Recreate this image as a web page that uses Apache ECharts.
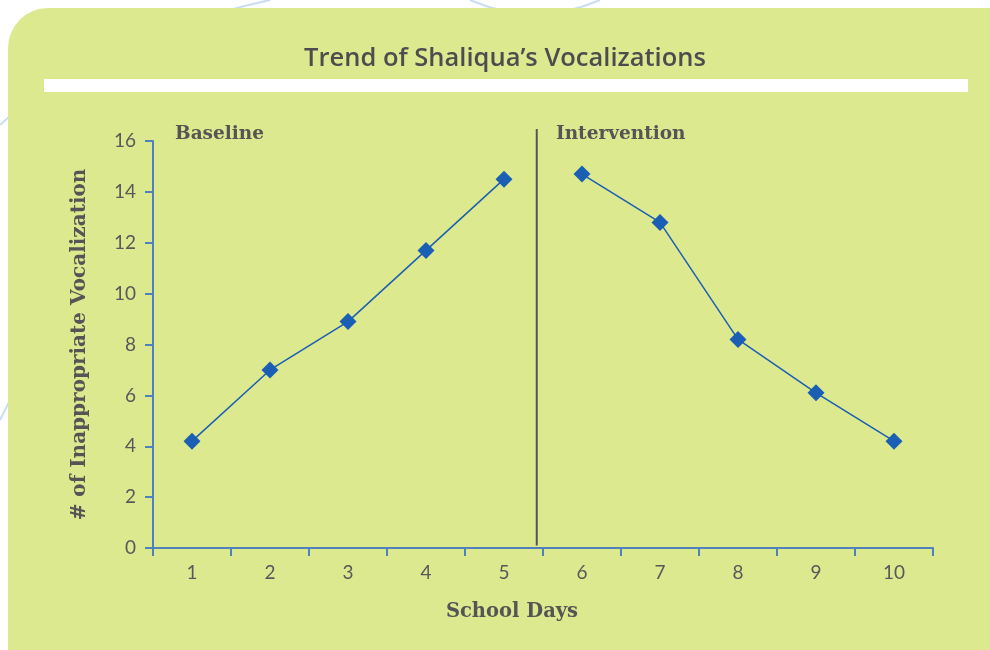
<!DOCTYPE html>
<html>
<head>
<meta charset="utf-8">
<script src="https://cdn.jsdelivr.net/npm/echarts@6/dist/echarts.min.js"></script>
<style>
  html, body { margin: 0; padding: 0; background: #ffffff; }
  #main { width: 990px; height: 650px; }
</style>
</head>
<body>
<div id="main"></div>
<script>
// school days 1..10
var days = ['1', '2', '3', '4', '5', '6', '7', '8', '9', '10'];
// baseline phase (days 1-5), intervention phase (days 6-10)
var baseline = [4.2, 7.0, 8.9, 11.7, 14.5, null, null, null, null, null];
var intervention = [null, null, null, null, null, 14.7, 12.8, 8.2, 6.1, 4.2];
var yTicks = { min: 0, max: 16, step: 2 };
// phase change line sits between day 5 and day 6 (on a 0..10 scale across the plot)
var phaseLine = [[4.92, 0.1], [4.92, 16.47]];

var textColor = '#58595b';
var markColor = '#1a5fb4';
var axisColor = '#4f81bd';
var labelFont = 'Lato';

var myChart = echarts.init(document.getElementById('main'));

myChart.setOption({
  animation: false,
  backgroundColor: '#ffffff',
  title: [
    {
      text: 'Trend of Shaliqua\u2019s Vocalizations',
      left: 500,
      top: 41,
      textAlign: 'center',
      textStyle: { fontFamily: 'Open Sans', fontSize: 25.5, fontWeight: 600, color: '#4d4d4f' }
    },
    {
      text: 'School Days',
      left: 507,
      top: 597,
      textAlign: 'center',
      textStyle: { fontFamily: 'DejaVu Serif', fontSize: 19.5, fontWeight: 'bold', color: '#555555' }
    }
  ],
  graphic: [
    // faint decorative curves behind the panel
    {
      type: 'bezierCurve', z: -20, silent: true,
      shape: { x1: 0, y1: 125, x2: 270, y2: 0, cpx1: 90, cpy1: 40 },
      style: { stroke: '#c9dcf0', lineWidth: 2, fill: null }
    },
    {
      type: 'bezierCurve', z: -20, silent: true,
      shape: { x1: 470, y1: 0, x2: 600, y2: 0, cpx1: 535, cpy1: 28 },
      style: { stroke: '#c9dcf0', lineWidth: 2, fill: null }
    },
    {
      type: 'bezierCurve', z: -20, silent: true,
      shape: { x1: 0, y1: 420, x2: 20, y2: 380, cpx1: 10, cpy1: 400 },
      style: { stroke: '#c9dcf0', lineWidth: 2, fill: null }
    },
    // green panel
    {
      type: 'rect', z: -10, silent: true,
      shape: { x: 8, y: 8, width: 1000, height: 700, r: [40, 0, 0, 0] },
      style: { fill: '#dde98f' }
    },
    // white rule under the title
    {
      type: 'rect', z: -5, silent: true,
      shape: { x: 44, y: 79, width: 924, height: 13 },
      style: { fill: '#ffffff' }
    },
    {
      type: 'text', left: 175, top: 125,
      style: { text: 'Baseline', fontFamily: 'DejaVu Serif', fontSize: 18.5, fontWeight: 'bold', fill: '#555555' }
    },
    {
      type: 'text', left: 556, top: 125,
      style: { text: 'Intervention', fontFamily: 'DejaVu Serif', fontSize: 18.5, fontWeight: 'bold', fill: '#555555' }
    }
  ],
  grid: {
    show: false,
    left: 153,
    right: 57,
    top: 141,
    bottom: 102
  },
  xAxis: [
    {
      type: 'category',
      data: days,
      boundaryGap: true,
      axisLine: { lineStyle: { color: axisColor, width: 2 } },
      axisTick: { show: true, length: 8, inside: false, lineStyle: { color: axisColor, width: 2 } },
      axisLabel: { margin: 15, fontFamily: labelFont, fontSize: 19, color: textColor },
      splitLine: { show: false }
    },
    {
      type: 'value',
      min: 0,
      max: 10,
      show: false
    }
  ],
  yAxis: [
    {
      type: 'value',
      min: yTicks.min,
      max: yTicks.max,
      interval: yTicks.step,
      name: '# of Inappropriate Vocalization',
      nameLocation: 'middle',
      nameGap: 63,
      nameRotate: 90,
      nameTextStyle: { fontFamily: 'DejaVu Serif', fontSize: 20, fontWeight: 'bold', color: '#555555' },
      axisLine: { show: true, lineStyle: { color: axisColor, width: 2 } },
      axisTick: { show: true, length: 8, lineStyle: { color: axisColor, width: 2 } },
      axisLabel: { margin: 17, fontFamily: labelFont, fontSize: 19, color: textColor },
      splitLine: { show: false }
    }
  ],
  series: [
    {
      name: 'Baseline',
      type: 'line',
      data: baseline,
      symbol: 'diamond',
      symbolSize: 17,
      connectNulls: false,
      itemStyle: { color: markColor },
      lineStyle: { color: markColor, width: 1.5 }
    },
    {
      name: 'Intervention',
      type: 'line',
      data: intervention,
      symbol: 'diamond',
      symbolSize: 17,
      connectNulls: false,
      itemStyle: { color: markColor },
      lineStyle: { color: markColor, width: 1.5 }
    },
    {
      name: 'Phase change',
      type: 'line',
      xAxisIndex: 1,
      data: phaseLine,
      clip: false,
      silent: true,
      symbol: 'none',
      lineStyle: { color: '#555555', width: 2 }
    }
  ]
});
</script>
</body>
</html>
